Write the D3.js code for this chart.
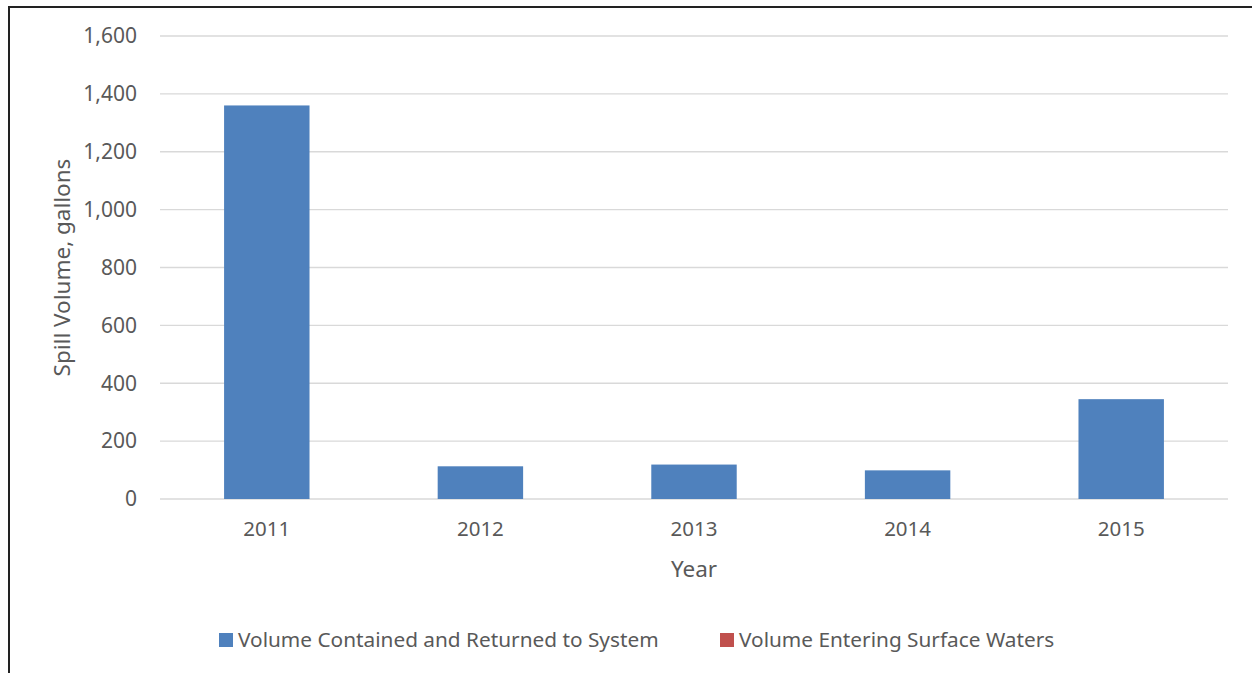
<!DOCTYPE html>
<html>
<head>
<meta charset="utf-8">
<style>
  body { margin: 0; background: #fff; }
  svg text { font-family: "Noto Sans", "Open Sans", sans-serif; fill: #595959; }
  .grid line { stroke: #d9d9d9; stroke-width: 1.3px; }
</style>
</head>
<body>
<svg id="chart" width="1252" height="673"></svg>
<script src="https://d3js.org/d3.v7.min.js"></script>
<script>
var years = ["2011", "2012", "2013", "2014", "2015"];
var contained = [1360, 113, 119, 99, 345];
var surface = [0, 0, 0, 0, 0];
var seriesNames = ["Volume Contained and Returned to System", "Volume Entering Surface Waters"];
var seriesColors = ["#4f81bd", "#c0504d"];
var yTicks = [0, 200, 400, 600, 800, 1000, 1200, 1400, 1600];

var svg = d3.select("#chart");
var plotLeft = 160, plotRight = 1228, plotTop = 36, plotBottom = 499;

// outer frame (runs off the right/bottom edge of the picture)
svg.append("rect")
  .attr("x", 9).attr("y", 7)
  .attr("width", 1300).attr("height", 700)
  .attr("fill", "none")
  .attr("stroke", "#222")
  .attr("stroke-width", 2);

var x = d3.scaleBand().domain(years).range([plotLeft, plotRight]).paddingInner(0.6).paddingOuter(0.3);
var y = d3.scaleLinear().domain([0, 1600]).range([plotBottom, plotTop]);

// gridlines
svg.append("g").attr("class", "grid")
  .selectAll("line").data(yTicks).enter().append("line")
  .attr("x1", plotLeft).attr("x2", plotRight)
  .attr("y1", d => y(d)).attr("y2", d => y(d));

// y tick labels
svg.append("g").selectAll("text").data(yTicks).enter().append("text")
  .attr("x", 137).attr("y", d => y(d))
  .attr("dy", "0.35em")
  .attr("text-anchor", "end")
  .attr("font-size", "21px")
  .text(d => d3.format(",")(d));

// bars, second series stacked on top (all zeros)
var stacked = years.map((yr, i) => ({ year: yr, a: contained[i], b: surface[i] }));
svg.append("g").selectAll("rect").data(stacked).enter().append("rect")
  .attr("x", d => x(d.year))
  .attr("y", d => y(d.a))
  .attr("width", x.bandwidth())
  .attr("height", d => y(0) - y(d.a))
  .attr("fill", seriesColors[0]);
svg.append("g").selectAll("rect").data(stacked.filter(d => d.b > 0)).enter().append("rect")
  .attr("x", d => x(d.year))
  .attr("y", d => y(d.a + d.b))
  .attr("width", x.bandwidth())
  .attr("height", d => y(d.a) - y(d.a + d.b))
  .attr("fill", seriesColors[1]);

// x labels
svg.append("g").selectAll("text").data(years).enter().append("text")
  .attr("x", d => x(d) + x.bandwidth() / 2)
  .attr("y", 529).attr("dy", "0.35em")
  .attr("text-anchor", "middle")
  .attr("font-size", "20.5px")
  .text(d => d);

// axis titles
svg.append("text")
  .attr("x", (plotLeft + plotRight) / 2).attr("y", 569).attr("dy", "0.35em")
  .attr("text-anchor", "middle")
  .attr("font-size", "22.5px")
  .text("Year");

svg.append("text")
  .attr("transform", "translate(62," + ((plotTop + plotBottom) / 2) + ") rotate(-90)")
  .attr("dy", "0.35em")
  .attr("text-anchor", "middle")
  .attr("font-size", "22.5px")
  .text("Spill Volume, gallons");

// legend
var legendX = [219, 720];
var lg = svg.append("g").selectAll("g").data(seriesNames).enter().append("g")
  .attr("transform", (d, i) => "translate(" + legendX[i] + ",640)");
lg.append("rect")
  .attr("x", 0).attr("y", -7)
  .attr("width", 14).attr("height", 14)
  .attr("fill", (d, i) => seriesColors[i]);
lg.append("text")
  .attr("x", 19).attr("dy", "0.35em")
  .attr("font-size", "20.8px")
  .text(d => d);
</script>
</body>
</html>
